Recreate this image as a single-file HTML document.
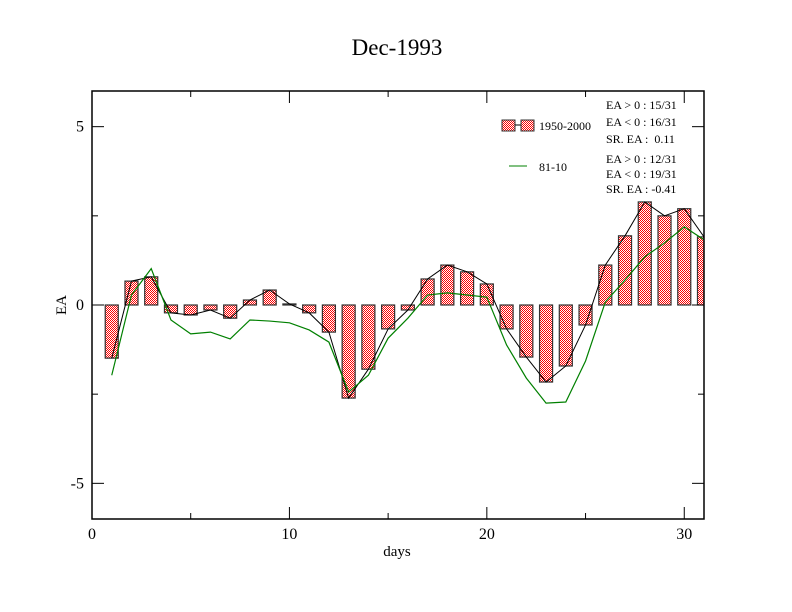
<!DOCTYPE html>
<html><head><meta charset="utf-8"><style>
body{margin:0;background:#fff;}
svg{display:block;font-family:"Liberation Serif",serif;}
</style></head><body>
<svg id="chart" width="792" height="612" viewBox="0 0 792 612">
<defs>
<pattern id="chk" width="2" height="2" patternUnits="userSpaceOnUse">
<rect width="2" height="2" fill="#fff"/><rect width="1" height="1" fill="#ff0000"/><rect x="1" y="1" width="1" height="1" fill="#ff0000"/>
</pattern>
</defs>
<text x="397" y="55" font-size="23" text-anchor="middle">Dec-1993</text>
<g id="plot"></g>
<text x="397" y="556" font-size="15" text-anchor="middle">days</text>
<text x="66" y="305" font-size="15" text-anchor="middle" transform="rotate(-90 66 305)">EA</text>
<g font-size="12">
<rect x="502" y="120" width="13" height="11" fill="url(#chk)" stroke="#333"/>
<line x1="515" y1="125" x2="521" y2="125" stroke="#000"/>
<rect x="521" y="120" width="13" height="11" fill="url(#chk)" stroke="#333"/>
<text x="539" y="130">1950-2000</text>
<line x1="509" y1="166" x2="527" y2="166" stroke="#008000"/>
<text x="539" y="171">81-10</text>
<text x="606" y="109">EA &gt; 0 : 15/31</text>
<text x="606" y="126">EA &lt; 0 : 16/31</text>
<text x="606" y="143">SR. EA :&#160;&#160;0.11</text>
<text x="606" y="163">EA &gt; 0 : 12/31</text>
<text x="606" y="178">EA &lt; 0 : 19/31</text>
<text x="606" y="193">SR. EA : -0.41</text>
</g>
</svg>
<script>
const days=[1,2,3,4,5,6,7,8,9,10,11,12,13,14,15,16,17,18,19,20,21,22,23,24,25,26,27,28,29,30,31];
const ea5000=[-1.49,0.67,0.79,-0.22,-0.28,-0.14,-0.37,0.14,0.42,0.03,-0.22,-0.76,-2.61,-1.8,-0.67,-0.14,0.73,1.12,0.93,0.59,-0.67,-1.46,-2.16,-1.71,-0.56,1.12,1.94,2.89,2.5,2.7,1.91];
const ea8110=[-1.97,0.28,1.02,-0.42,-0.81,-0.76,-0.95,-0.42,-0.45,-0.5,-0.7,-1.04,-2.44,-1.97,-0.93,-0.37,0.28,0.34,0.28,0.22,-1.12,-2.05,-2.75,-2.72,-1.57,0.08,0.7,1.35,1.74,2.19,1.83];
const xTicks=[0,10,20,30];
const yTicks=[-5,0,5];
const L=92,R=704,T=91,B=519,XMIN=0,XMAX=31,YMIN=-6,YMAX=6;
const sx=v=>L+(v-XMIN)/(XMAX-XMIN)*(R-L);
const sy=v=>B-(v-YMIN)/(YMAX-YMIN)*(B-T);
const NS="http://www.w3.org/2000/svg";
const g=document.getElementById('plot');
function mk(t,a){const e=document.createElementNS(NS,t);for(const k in a)e.setAttribute(k,a[k]);g.appendChild(e);return e;}
const cp=document.createElementNS(NS,'clipPath');cp.setAttribute('id','clip');
const cr=document.createElementNS(NS,'rect');cr.setAttribute('x',L);cr.setAttribute('y',T);cr.setAttribute('width',R-L);cr.setAttribute('height',B-T);cp.appendChild(cr);g.appendChild(cp);
const bw=sx(0.66)-sx(0);
days.forEach((d,i)=>{const v=ea5000[i];const y0=sy(0),y1=sy(v);
const r=mk('rect',{x:sx(d)-bw/2,y:Math.min(y0,y1),width:bw,height:Math.max(1,Math.abs(y1-y0)),fill:'url(#chk)',stroke:'#333','stroke-width':1.2,'clip-path':'url(#clip)'});

});
const p1=mk('polyline',{points:days.map((d,i)=>sx(d)+','+sy(ea5000[i])).join(' '),fill:'none',stroke:'#000','stroke-width':1,'clip-path':'url(#clip)'});


const p2=mk('polyline',{points:days.map((d,i)=>sx(d)+','+sy(ea8110[i])).join(' '),fill:'none',stroke:'#008000','stroke-width':1.2,'clip-path':'url(#clip)'});


const fr=mk('rect',{x:L,y:T,width:R-L,height:B-T,fill:'none',stroke:'#000','stroke-width':1.5});


for(let v=0;v<=30;v+=5){const x=sx(v),len=v%10===0?12:6;
mk('line',{x1:x,y1:B,x2:x,y2:B-len,stroke:'#000'});mk('line',{x1:x,y1:T,x2:x,y2:T+len,stroke:'#000'});}
for(let v=-5;v<=5;v+=2.5){const y=sy(v),len=v%5===0?12:6;
mk('line',{x1:L,y1:y,x2:L+len,y2:y,stroke:'#000'});mk('line',{x1:R,y1:y,x2:R-len,y2:y,stroke:'#000'});}
xTicks.forEach(v=>{const t=mk('text',{x:sx(v),y:B+20,'font-size':16,'text-anchor':'middle'});t.textContent=v;

});
yTicks.forEach(v=>{const t=mk('text',{x:L-8,y:sy(v)+5,'font-size':16,'text-anchor':'end'});t.textContent=v;

});
</script>
</body></html>
